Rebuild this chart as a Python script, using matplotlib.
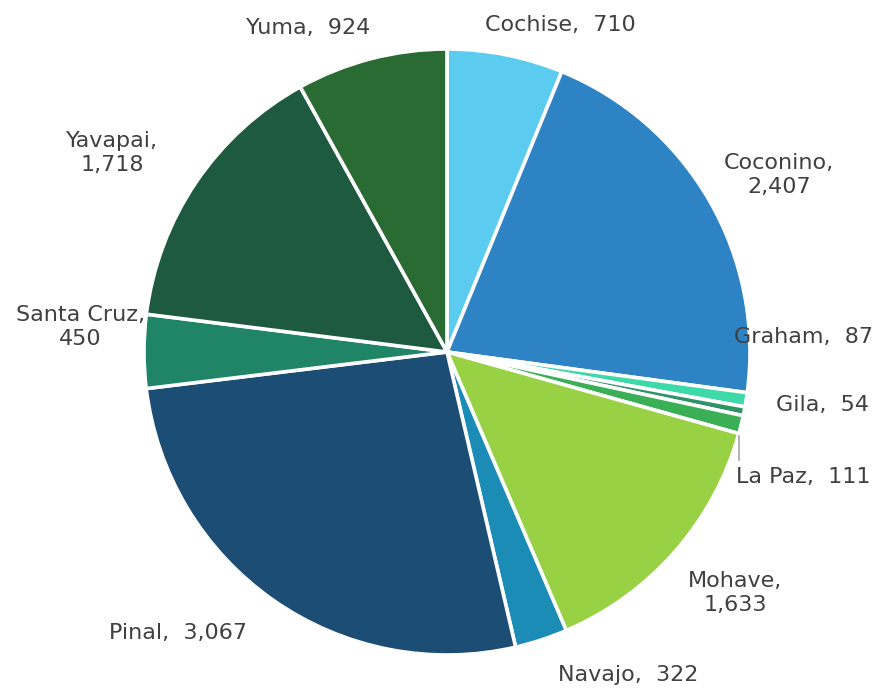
import matplotlib
matplotlib.use("Agg")
import matplotlib.pyplot as plt

counties = ["Cochise", "Coconino", "Graham", "Gila", "La Paz", "Mohave",
            "Navajo", "Pinal", "Santa Cruz", "Yavapai", "Yuma"]
values = [710, 2407, 87, 54, 111, 1633, 322, 3067, 450, 1718, 924]
colors = ["#5BCBEF", "#2E83C4", "#3DD9A8", "#2E9466", "#3AAF55", "#98D143",
          "#1A8CB6", "#1C4E75", "#208466", "#1E5A40", "#2A6A33"]

# label layout (pixel coordinates, origin top-left) and line breaks
label_pos = [(560, 25), (779, 175), (803, 337), (822, 405), (803, 477),
             (735, 593), (628, 675), (178, 633), (80, 327), (112, 153),
             (308, 28)]
two_line = {"Coconino", "Mohave", "Santa Cruz", "Yavapai"}

W, H = 881, 690
fig = plt.figure(figsize=(W / 100, H / 100), dpi=100)
ax = fig.add_axes([0, 0, 1, 1])

cx, cy, r = 447, H - 352, 303
ax.pie(values, colors=colors, startangle=90, counterclock=False,
       center=(cx, cy), radius=r, frame=True,
       wedgeprops=dict(edgecolor="white", linewidth=2.6))
ax.set_xlim(0, W)
ax.set_ylim(0, H)
ax.set_aspect("equal")
ax.axis("off")

for name, v, (px, py) in zip(counties, values, label_pos):
    sep = ",\n" if name in two_line else ",  "
    ax.text(px, H - py, f"{name}{sep}{v:,}", ha="center", va="center",
            fontsize=16, color="#404040", family="DejaVu Sans",
            linespacing=1.2)

# leader line for La Paz
ax.plot([739, 739], [H - 436, H - 460], color="#A6A6A6", lw=1.2)

fig.savefig("out.png", dpi=100)
